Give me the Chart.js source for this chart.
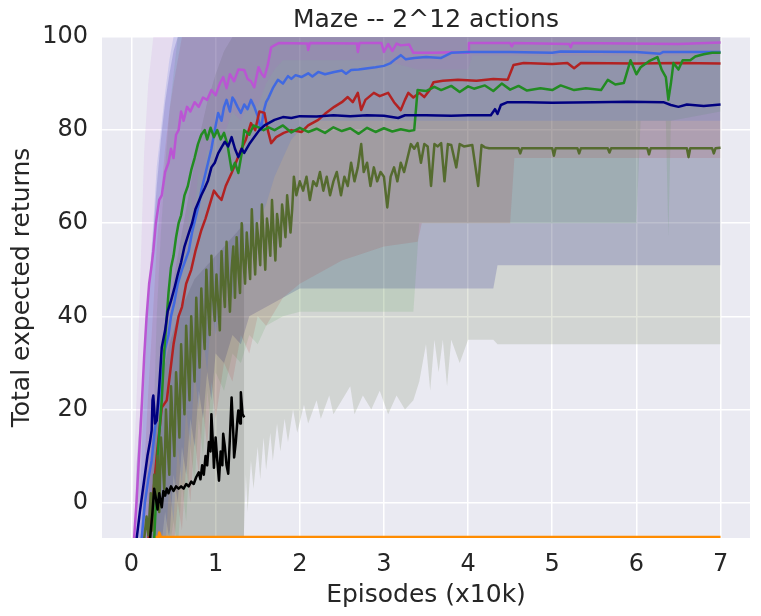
<!DOCTYPE html>
<html lang="en">
<head>
    <meta charset="utf-8">
    <title>Maze -- 2^12 actions</title>
    <script src="https://cdn.jsdelivr.net/npm/chart.js"></script>
    <style>
        html, body {
            margin: 0;
            padding: 0;
            background: #ffffff;
        }
        #wrap {
            width: 761px;
            height: 616px;
        }
    </style>
</head>
<body>
    <div id="wrap">
        <canvas id="mazeChart" width="761" height="616"></canvas>
    </div>

    <script>
        // axis ticks
        const xTicks = [0, 1, 2, 3, 4, 5, 6, 7];
        const yTicks = [0, 20, 40, 60, 80, 100];

        // mean curves, [episodes (x10k), return]
        const violetLine = [[0,-10],[0.03,-8],[0.06,0],[0.09,10],[0.12,20],[0.15,31],[0.18,40],[0.21,47],[0.24,51],[0.26,54],[0.29,60],[0.33,65],[0.36,66],[0.4,71],[0.44,73],[0.47,76],[0.5,74],[0.53,79],[0.56,80],[0.59,84],[0.62,82],[0.66,85],[0.7,84],[0.75,86],[0.8,85],[0.85,87],[0.9,86.5],[0.95,88.6],[1.0,87.5],[1.05,90],[1.09,91.4],[1.13,89],[1.17,92],[1.22,90.5],[1.27,93],[1.34,92.9],[1.38,91],[1.42,90.5],[1.46,89.2],[1.51,93.5],[1.55,92],[1.58,91.4],[1.62,94],[1.66,97.8],[1.7,98.2],[1.75,98.7],[2.09,98.6],[2.1,97.2],[2.12,98.7],[2.68,98.6],[2.69,96.8],[2.71,98.7],[2.97,98.7],[3.0,96.8],[3.05,98.5],[3.1,97.0],[3.15,98.6],[3.2,98.2],[3.3,98.4],[3.35,96.6],[3.6,96.6],[3.8,96.7],[4.0,96.6],[4.01,98.7],[4.5,98.7],[4.52,98.0],[4.54,98.7],[5.2,98.5],[5.22,97.8],[5.24,98.7],[6.5,98.5],[7.0,98.8]];
        const blueLine = [[0.08,-10],[0.12,-8],[0.16,0],[0.2,5],[0.24,9],[0.28,16],[0.33,22],[0.36,27],[0.4,33],[0.44,36],[0.47,40],[0.51,43],[0.55,47],[0.6,50],[0.64,52],[0.68,54],[0.72,58],[0.76,61],[0.8,64],[0.83,67],[0.87,70],[0.91,73],[0.95,76],[0.99,80],[1.03,83.7],[1.07,82],[1.1,85],[1.13,86.5],[1.17,84],[1.2,87],[1.22,86.5],[1.26,85],[1.3,83.7],[1.34,85.5],[1.38,84.5],[1.42,86.5],[1.46,85],[1.5,83],[1.54,80],[1.57,84],[1.6,86],[1.63,87],[1.68,89],[1.74,90.8],[1.8,90],[1.86,91.6],[1.9,91],[1.95,91.8],[2.02,91.4],[2.1,92.2],[2.15,91.5],[2.22,92.5],[2.3,92],[2.41,92.5],[2.5,92.8],[2.55,92.1],[2.61,92.9],[2.7,93],[2.81,93.3],[2.9,93.5],[3.0,93.8],[3.08,94.4],[3.14,95.3],[3.2,96.1],[3.26,95.2],[3.36,95.5],[3.5,95.7],[3.68,95.5],[3.8,96.6],[4.0,96.8],[4.5,96.8],[5.0,96.6],[5.1,96.9],[6.0,96.8],[6.28,96.4],[6.32,96.8],[7.0,96.8]];
        const redLine = [[0.14,-10],[0.2,-8],[0.25,0],[0.3,10],[0.36,20.4],[0.42,22],[0.46,28],[0.5,34],[0.56,40],[0.6,42],[0.65,47],[0.71,50],[0.76,54],[0.83,58.5],[0.88,61],[0.93,64],[0.98,67],[1.02,66],[1.07,65],[1.12,68],[1.19,70.8],[1.24,73],[1.3,75.7],[1.36,78],[1.42,81.5],[1.47,80],[1.52,84],[1.58,83.7],[1.62,80],[1.66,77.2],[1.72,78.5],[1.81,79.4],[1.9,80],[2.02,79.6],[2.1,81],[2.22,82.2],[2.3,83.5],[2.41,85],[2.5,86],[2.57,87.1],[2.63,86],[2.69,88],[2.73,84.3],[2.78,86.5],[2.88,88],[2.95,87.3],[3.05,88],[3.12,86],[3.2,84.3],[3.25,86.5],[3.29,88],[3.35,87],[3.42,88],[3.48,87.1],[3.54,88.5],[3.59,90.3],[3.7,90.6],[3.88,90.8],[4.1,90.6],[4.3,91],[4.47,90.8],[4.54,94],[4.66,94.4],[5.0,94.2],[5.18,94.4],[5.26,93.3],[5.34,94.4],[6.0,94.3],[6.5,94.4],[7.0,94.3]];
        const greenLine = [[0.24,-10],[0.27,-8],[0.29,0],[0.31,10],[0.34,17],[0.36,22],[0.39,32.7],[0.42,40],[0.44,45],[0.47,50.5],[0.5,53],[0.53,57],[0.56,60],[0.59,61.7],[0.63,66],[0.67,68],[0.71,71.4],[0.75,74],[0.79,77],[0.83,79],[0.87,80],[0.9,78],[0.94,80.5],[0.98,78.5],[1.02,80],[1.06,78],[1.1,79.4],[1.14,77],[1.19,71.4],[1.23,73],[1.27,70.8],[1.31,75],[1.34,80],[1.4,79],[1.45,81],[1.51,80.6],[1.57,80],[1.63,80.6],[1.7,80],[1.8,81],[1.9,79.5],[2.0,80.5],[2.1,79.6],[2.2,80.3],[2.3,79.4],[2.4,80.6],[2.5,79.8],[2.6,80.4],[2.7,79.2],[2.8,80.5],[2.9,79.6],[3.0,80.4],[3.1,79.7],[3.2,80.2],[3.3,79.8],[3.36,80],[3.4,88.6],[3.5,88.4],[3.6,89.3],[3.68,88.6],[3.8,89.5],[3.9,88.2],[4.0,89.4],[4.07,88.9],[4.2,89.6],[4.3,88.4],[4.4,90],[4.5,88.7],[4.6,89.5],[4.7,88.5],[4.86,89],[5.0,88.6],[5.1,89.6],[5.26,88.6],[5.4,89],[5.58,88.6],[5.66,90.8],[5.75,89.8],[5.85,90.1],[5.93,95],[6.0,92],[6.05,93.5],[6.15,94.8],[6.25,95.7],[6.3,93],[6.35,91.4],[6.38,86.5],[6.41,90],[6.44,94.4],[6.5,93],[6.55,95],[6.64,95],[6.7,95.8],[6.8,96.3],[6.9,96.6],[7.0,96.6]];
        const navyLine = [[0.03,-10],[0.06,-8],[0.1,-2],[0.15,4.7],[0.19,10],[0.22,13],[0.24,15.5],[0.25,22],[0.26,23],[0.28,17],[0.3,17.6],[0.33,25],[0.36,33.3],[0.4,37],[0.43,41],[0.47,43.4],[0.51,46],[0.55,49],[0.59,51.6],[0.63,55],[0.68,57.8],[0.72,60],[0.76,63],[0.79,64.3],[0.83,66],[0.87,67.5],[0.91,69.2],[0.95,72],[0.99,73],[1.03,75],[1.07,76.3],[1.11,77.5],[1.15,76.5],[1.19,78.5],[1.23,76],[1.27,74.2],[1.31,76],[1.34,75.1],[1.4,77],[1.46,78.5],[1.52,80],[1.58,81],[1.63,81.5],[1.7,82.2],[1.8,82.8],[1.9,82.6],[2.0,83],[2.2,82.9],[2.4,83.2],[2.6,83],[2.8,83.2],[3.0,83.1],[3.17,82.6],[3.25,83.2],[3.5,83.2],[3.8,83.1],[4.0,83.2],[4.27,83.2],[4.32,84.5],[4.35,83.5],[4.39,85.4],[4.47,86],[4.7,86],[5.0,85.9],[5.5,86],[5.9,86.1],[6.32,86],[6.41,85.4],[6.5,85],[6.6,85.5],[6.8,85.2],[7.0,85.5]];
        const oliveLine = [[0.1,-10],[0.15,-8],[0.18,-3],[0.2,-7],[0.23,2],[0.25,-6],[0.27,6],[0.29,1],[0.31,10],[0.33,-2],[0.35,14],[0.37,9],[0.39,3],[0.41,20],[0.43,12],[0.45,6],[0.47,25],[0.49,17],[0.51,10],[0.53,28],[0.55,22],[0.57,14],[0.59,34],[0.61,26],[0.63,19],[0.65,38],[0.67,30],[0.69,22],[0.71,40],[0.73,33],[0.75,26],[0.77,44],[0.79,36],[0.81,29],[0.83,46],[0.85,39],[0.87,33],[0.89,50],[0.91,42],[0.93,36],[0.95,53],[0.97,44],[0.99,39],[1.01,49],[1.03,43],[1.05,37],[1.07,54],[1.09,47],[1.11,42],[1.13,56],[1.15,48],[1.17,41],[1.19,50],[1.21,55],[1.23,44],[1.25,57],[1.27,50],[1.29,45],[1.31,60],[1.33,52],[1.35,47],[1.37,58],[1.39,53],[1.41,48],[1.43,63],[1.45,55],[1.47,49],[1.49,60],[1.51,56],[1.53,51],[1.55,64],[1.57,57],[1.59,50],[1.61,61],[1.63,58],[1.65,53],[1.67,65],[1.69,58],[1.71,52],[1.73,62],[1.75,59],[1.77,55],[1.79,64],[1.81,61],[1.83,57],[1.85,66],[1.87,62],[1.89,58],[1.91,63],[1.93,70],[1.96,66],[2.0,69],[2.04,67],[2.08,70],[2.12,65],[2.16,69],[2.2,68],[2.24,71],[2.28,67],[2.32,70],[2.36,66],[2.4,69],[2.44,71],[2.49,66],[2.53,70],[2.57,68],[2.61,73],[2.65,69],[2.69,72],[2.73,77],[2.76,71],[2.8,73],[2.84,68],[2.88,72],[2.92,69],[2.96,71],[3.0,70],[3.04,63.4],[3.08,70],[3.12,72],[3.16,69],[3.2,73],[3.24,71],[3.28,74],[3.32,77],[3.36,76],[3.4,77.2],[3.44,73],[3.48,77],[3.52,76.5],[3.56,68],[3.6,77],[3.64,76.5],[3.68,77.2],[3.72,69],[3.76,77],[3.8,76.8],[3.86,72],[3.9,77],[3.95,76.5],[4.05,76.8],[4.12,68],[4.16,76.8],[4.2,76.3],[4.25,76.1],[4.6,76.1],[4.62,75],[4.64,76.1],[5.0,76.1],[5.02,74.5],[5.04,76.1],[5.3,76.1],[5.32,75],[5.34,76.1],[5.66,76.1],[5.68,75.2],[5.7,76.1],[6.13,76.1],[6.15,74.8],[6.17,76.1],[6.6,76.1],[6.62,74.2],[6.64,76.1],[6.9,76.1],[6.92,75],[6.94,76.1],[7.0,76.2]];
        const blackLine = [[0.19,-10],[0.22,-8],[0.25,-2],[0.27,3],[0.29,1],[0.31,-1.5],[0.33,2],[0.36,-1],[0.38,2.5],[0.4,1.5],[0.42,3],[0.44,2],[0.47,3.5],[0.5,2.5],[0.53,3.5],[0.56,3],[0.59,3.5],[0.62,3],[0.65,4],[0.68,3.5],[0.71,4.5],[0.74,4],[0.77,5.5],[0.8,6.5],[0.82,5],[0.84,8],[0.86,6],[0.88,10],[0.9,8],[0.92,13],[0.94,11],[0.95,19],[0.97,12],[0.98,7.5],[1.0,14],[1.02,9],[1.04,4.7],[1.06,11],[1.08,8],[1.09,14.8],[1.11,12],[1.13,8],[1.15,6.2],[1.17,14],[1.19,22.6],[1.21,15],[1.22,9.7],[1.24,13],[1.26,18],[1.27,19.8],[1.29,17],[1.3,23.7],[1.32,19],[1.34,18.3]];
        const orangeLine = [[0.25,-12],[0.29,-7.4],[0.32,-7.4],[0.33,-6.4],[0.35,-7.4],[7.0,-7.4]];

        // spread bands, [episodes, low, high]
        const violetBand = [[0,-10,-10],[0.03,-10,8],[0.06,-10,22],[0.1,-10,45],[0.15,-10,75],[0.2,-6,90],[0.26,6,100],[0.3,18,100],[0.35,14,100],[0.4,32,100],[0.45,26,100],[0.5,46,100],[0.55,40,100],[0.6,58,100],[0.65,52,100],[0.7,66,100],[0.75,62,100],[0.8,72,100],[0.85,68,100],[0.9,76,100],[0.95,74,100],[1.0,80,100],[1.1,79,100],[1.2,84,100],[1.3,82,100],[1.4,86,100],[1.5,85,100],[1.6,90,100],[1.7,93,100],[1.8,95,100],[3.0,95,100],[3.4,93,100],[4.0,93,100],[4.05,96,100],[7.0,96,100]];
        const navyBand = [[0.03,-10,-10],[0.06,-10,8],[0.1,-10,18],[0.15,-10,30],[0.2,-10,45],[0.26,-10,58],[0.3,-8,68],[0.35,-10,78],[0.4,-2,86],[0.45,-8,92],[0.5,6,97],[0.55,0,100],[0.6,12,100],[0.65,6,100],[0.7,18,100],[0.75,12,100],[0.8,24,100],[0.85,18,100],[0.9,28,100],[0.95,22,100],[1.0,32,100],[1.1,30,100],[1.2,36,100],[1.3,34,100],[1.4,40,100],[1.6,42,100],[1.8,44,100],[2.0,46,100],[4.3,46,100],[4.35,51,100],[7.0,51,100]];
        const blueBand = [[0.08,-10,-10],[0.12,-10,10],[0.16,-10,30],[0.2,-10,45],[0.26,-10,60],[0.3,-10,72],[0.35,-6,80],[0.4,-10,88],[0.45,4,95],[0.5,-4,100],[0.55,12,100],[0.6,4,100],[0.65,20,100],[0.7,12,100],[0.75,28,100],[0.8,20,100],[0.85,36,100],[0.9,28,100],[0.95,42,100],[1.0,36,100],[1.1,48,100],[1.2,44,100],[1.3,54,100],[1.4,52,100],[1.5,60,100],[1.6,64,100],[1.7,70,100],[1.8,74,100],[1.9,78,100],[2.0,80,100],[2.2,82,100],[7.0,82,100]];
        const redBand = [[0.12,-10,-10],[0.16,-10,10],[0.2,-10,24],[0.26,-10,42],[0.3,-10,55],[0.35,-10,66],[0.4,-10,76],[0.45,-6,84],[0.5,-10,90],[0.55,0,95],[0.6,-6,100],[0.65,8,100],[0.7,0,100],[0.75,14,100],[0.8,6,100],[0.85,20,100],[0.9,12,100],[0.95,26,100],[1.0,18,100],[1.1,30,100],[1.2,26,100],[1.3,36,100],[1.4,32,100],[1.5,40,100],[1.6,38,100],[1.8,44,100],[2.0,47,100],[2.5,52,100],[3.0,55,100],[3.4,56,100],[3.45,60,100],[4.5,60,100],[4.55,74,100],[7.0,74,100]];
        const greenBand = [[0.22,-10,-10],[0.26,-10,15],[0.3,-10,40],[0.35,-10,58],[0.4,-10,72],[0.45,-10,84],[0.5,-4,92],[0.55,-10,100],[0.6,4,100],[0.65,-4,100],[0.7,12,100],[0.75,4,100],[0.8,18,100],[0.85,10,100],[0.9,24,100],[0.95,16,100],[1.0,28,100],[1.1,24,100],[1.2,32,100],[1.3,30,100],[1.4,36,100],[1.5,34,100],[1.6,38,100],[1.8,40,100],[2.0,41,100],[3.35,41,100],[3.42,60,100],[6.0,60,100],[6.05,82,100],[6.35,82,100],[6.38,57,100],[6.41,82,100],[7.0,84,100]];
        const oliveBand = [[0.1,-10,-10],[0.15,-10,5],[0.2,-10,12],[0.3,-10,22],[0.4,-10,35],[0.5,-10,48],[0.6,-10,58],[0.7,-10,68],[0.8,-10,78],[0.9,-10,86],[1.0,-10,92],[1.1,-10,97],[1.2,-10,100],[1.33,-10,100],[1.36,6,100],[1.38,-2,100],[1.42,9,100],[1.45,3,100],[1.5,12,100],[1.53,5,100],[1.57,14,100],[1.6,7,100],[1.65,15,100],[1.68,9,100],[1.73,17,100],[1.77,11,100],[1.82,18,100],[1.86,13,100],[1.92,20,100],[1.97,15,100],[2.05,21,100],[2.1,17,100],[2.2,22,100],[2.25,18,100],[2.35,23,100],[2.4,19,100],[2.5,22,100],[2.6,25,100],[2.65,19,100],[2.75,23,100],[2.85,20,100],[2.95,24,100],[3.05,19,100],[3.15,23,100],[3.25,20,100],[3.35,22,100],[3.42,26,100],[3.5,34,100],[3.55,24,100],[3.6,35,100],[3.65,28,100],[3.7,35,100],[3.75,25,100],[3.8,35,100],[3.9,30,100],[4.0,35,100],[4.3,35,100],[4.35,34,100],[7.0,34,100]];
        const blackBand = [[0.18,-10,-10],[0.22,-10,8],[0.27,-10,18],[0.35,-10,26],[0.45,-10,34],[0.55,-10,40],[0.65,-10,44],[0.75,-10,48],[0.85,-10,50],[0.95,-10,52],[1.05,-10,54],[1.15,-10,56],[1.25,-10,58],[1.34,-10,60]];

        const textColor = '#262626';

        function rgba(hex, a) {
            const n = parseInt(hex.slice(1), 16);
            return `rgba(${(n >> 16) & 255}, ${(n >> 8) & 255}, ${n & 255}, ${a})`;
        }

        function lineSet(points, color, order) {
            return {
                data: points.map(p => ({ x: p[0], y: p[1] })),
                borderColor: color,
                borderWidth: 2.5,
                borderJoinStyle: 'round',
                pointRadius: 0,
                tension: 0,
                fill: false,
                order: order
            };
        }

        // upper edge filled down to the lower edge that follows it
        function bandSets(points, color, alpha) {
            const edge = {
                borderColor: 'rgba(0,0,0,0)',
                borderWidth: 0,
                pointRadius: 0,
                tension: 0,
                order: 10
            };
            return [
                Object.assign({}, edge, {
                    data: points.map(p => ({ x: p[0], y: p[2] })),
                    fill: '+1',
                    backgroundColor: rgba(color, alpha)
                }),
                Object.assign({}, edge, {
                    data: points.map(p => ({ x: p[0], y: p[1] })),
                    fill: false
                })
            ];
        }

        const colors = {
            violet: '#BA55D3',
            blue: '#4169E1',
            red: '#B22222',
            green: '#228B22',
            navy: '#000080',
            olive: '#556B2F',
            black: '#000000',
            orange: '#FF8C00'
        };

        const datasets = [
            ...bandSets(violetBand, colors.violet, 0.1),
            ...bandSets(blueBand, colors.blue, 0.16),
            ...bandSets(redBand, colors.red, 0.12),
            ...bandSets(greenBand, colors.green, 0.1),
            ...bandSets(navyBand, colors.navy, 0.17),
            ...bandSets(oliveBand, colors.olive, 0.16),
            ...bandSets(blackBand, colors.black, 0.12),
            lineSet(orangeLine, colors.orange, 7),
            lineSet(violetLine, colors.violet, 6),
            lineSet(blueLine, colors.blue, 5),
            lineSet(redLine, colors.red, 4),
            lineSet(greenLine, colors.green, 3),
            lineSet(navyLine, colors.navy, 2),
            lineSet(oliveLine, colors.olive, 1),
            lineSet(blackLine, colors.black, 0)
        ];

        const plotBackground = {
            id: 'plotBackground',
            beforeDraw(chart) {
                const { ctx, chartArea: a } = chart;
                ctx.save();
                ctx.fillStyle = '#EAEAF2';
                ctx.fillRect(a.left, a.top, a.right - a.left, a.bottom - a.top);
                ctx.restore();
            }
        };

        // centre the title over the plot, not the canvas
        const titleOverPlot = {
            id: 'titleOverPlot',
            afterLayout(chart) {
                const t = chart.titleBlock;
                const a = chart.chartArea;
                t.left = a.left;
                t.right = a.right;
                t.width = a.right - a.left;
            }
        };

        new Chart(document.getElementById('mazeChart'), {
            type: 'line',
            data: { datasets: datasets },
            plugins: [plotBackground, titleOverPlot],
            options: {
                responsive: false,
                animation: false,
                events: [],
                layout: { padding: { left: 0, right: 11, top: 0, bottom: 0 } },
                plugins: {
                    legend: { display: false },
                    tooltip: { enabled: false },
                    title: {
                        display: true,
                        text: 'Maze -- 2^12 actions',
                        color: textColor,
                        font: { family: 'DejaVu Sans', size: 25, weight: 'normal' },
                        padding: { top: 5, bottom: 2 }
                    }
                },
                scales: {
                    x: {
                        type: 'linear',
                        min: -0.35,
                        max: 7.35,
                        afterBuildTicks: s => { s.ticks = xTicks.map(v => ({ value: v })); },
                        afterFit: s => { s.height = 78; },
                        grid: { color: '#ffffff', lineWidth: 1.5, drawTicks: false },
                        border: { display: false },
                        ticks: {
                            color: textColor,
                            font: { family: 'DejaVu Sans', size: 24 },
                            padding: 12,
                            maxRotation: 0
                        },
                        title: {
                            display: true,
                            text: 'Episodes (x10k)',
                            color: textColor,
                            font: { family: 'DejaVu Sans', size: 25 },
                            padding: { top: 0, bottom: 6 }
                        }
                    },
                    y: {
                        type: 'linear',
                        min: -7.6,
                        max: 100,
                        afterBuildTicks: s => { s.ticks = yTicks.map(v => ({ value: v })); },
                        afterFit: s => { s.width = 102; },
                        grid: { color: '#ffffff', lineWidth: 1.5, drawTicks: false },
                        border: { display: false },
                        ticks: {
                            color: textColor,
                            font: { family: 'DejaVu Sans', size: 24 },
                            padding: 14
                        },
                        title: {
                            display: true,
                            text: 'Total expected returns',
                            color: textColor,
                            font: { family: 'DejaVu Sans', size: 25 },
                            padding: { top: 7, bottom: 0 }
                        }
                    }
                }
            }
        });
    </script>
</body>
</html>
